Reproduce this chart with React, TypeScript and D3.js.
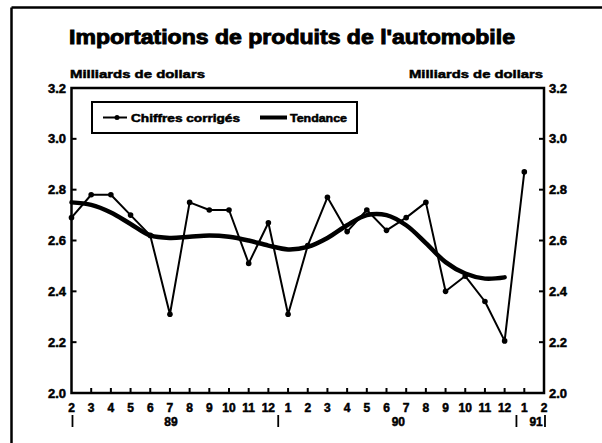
import React from "react";
import * as d3 from "d3";

const title = "Importations de produits de l'automobile";
const unitLabel = "Milliards de dollars";
const monthLabels = ["2","3","4","5","6","7","8","9","10","11","12","1","2","3","4","5","6","7","8","9","10","11","12","1","2"];
const yearLabels = ["89", "90", "91"];
const yearLabelPos = [5.05, 16.6, 23.6];
const yearSeparators = [0.05, 10.5, 22.6, 24.05];
const yTicks = [2.0, 2.2, 2.4, 2.6, 2.8, 3.0, 3.2];
// Feb 1989 .. Jan 1991
const adjusted = [2.69, 2.78, 2.78, 2.70, 2.62, 2.31, 2.75, 2.72, 2.72, 2.51, 2.67, 2.31, 2.58, 2.77, 2.635, 2.72, 2.64, 2.69, 2.75, 2.40, 2.46, 2.36, 2.205, 2.87];
// Feb 1989 .. Dec 1990
const trend = [2.75, 2.74, 2.71, 2.665, 2.62, 2.61, 2.615, 2.62, 2.615, 2.60, 2.58, 2.565, 2.575, 2.61, 2.66, 2.70, 2.70, 2.66, 2.59, 2.515, 2.47, 2.45, 2.455];
const legendLabels = ["Chiffres corrigés", "Tendance"];

const FONT = "'Liberation Sans', Arial, sans-serif";

export default function App() {
  const W = 602, H = 443;
  const left = 71.5, right = 544, top = 88, bottom = 393;
  const x = d3.scaleLinear().domain([0, 24]).range([left, right]);
  const y = d3.scaleLinear().domain([2.0, 3.2]).range([bottom, top]);

  const dataLine = d3.line<number>().x((_, i) => x(i)).y((d) => y(d))(adjusted) || "";
  const trendLine = d3
    .line<number>()
    .x((_, i) => x(i))
    .y((d) => y(d))
    .curve(d3.curveCatmullRom.alpha(0.5))(trend) || "";

  const heavy = { stroke: "#000", strokeWidth: 0.5 } as const;

  return (
    <svg width={W} height={H} style={{ position: "absolute", left: 0, top: 0, background: "#fff" }} fontFamily={FONT}>
      <rect x={0} y={0} width={W} height={H} fill="#fff" />
      {/* outer border */}
      <line x1={11.5} y1={7.5} x2={W} y2={7.5} stroke="#000" strokeWidth={2.5} />
      <line x1={11.5} y1={7.5} x2={11.5} y2={H} stroke="#000" strokeWidth={2.5} />

      <text x={69} y={44} fontSize={19.5} fontWeight="bold" textLength={446} lengthAdjust="spacingAndGlyphs" stroke="#000" strokeWidth={0.9}>{title}</text>
      <text x={70} y={78} fontSize={11.5} fontWeight="bold" textLength={135} lengthAdjust="spacingAndGlyphs" {...heavy}>{unitLabel}</text>
      <text x={409} y={78} fontSize={11.5} fontWeight="bold" textLength={134} lengthAdjust="spacingAndGlyphs" {...heavy}>{unitLabel}</text>

      {/* frame */}
      <rect x={left} y={top} width={right - left} height={bottom - top} fill="none" stroke="#000" strokeWidth={2.5} />

      {/* y ticks */}
      {yTicks.map((t) => (
        <g key={t}>
          <line x1={left} x2={left + 5} y1={y(t)} y2={y(t)} stroke="#000" strokeWidth={2} />
          <line x1={right} x2={right - 5} y1={y(t)} y2={y(t)} stroke="#000" strokeWidth={2} />
          <text x={66} y={y(t) + 4.5} fontSize={13} fontWeight="bold" textAnchor="end" {...heavy}>{t.toFixed(1)}</text>
          <text x={549} y={y(t) + 4.5} fontSize={13} fontWeight="bold" {...heavy}>{t.toFixed(1)}</text>
        </g>
      ))}

      {/* x ticks */}
      {monthLabels.map((m, i) => (
        <g key={i}>
          {i > 0 && i < 24 && (
            <line x1={x(i)} x2={x(i)} y1={bottom} y2={bottom - 5} stroke="#000" strokeWidth={2} />
          )}
          <text x={x(i)} y={411.5} fontSize={12} fontWeight="bold" textAnchor="middle" {...heavy}>{m}</text>
        </g>
      ))}
      {yearLabels.map((yl, i) => (
        <text key={yl} x={x(yearLabelPos[i])} y={426} fontSize={12} fontWeight="bold" textAnchor="middle" {...heavy}>{yl}</text>
      ))}
      {yearSeparators.map((s, i) => (
        <line key={i} x1={x(s)} x2={x(s)} y1={415} y2={427} stroke="#000" strokeWidth={1.8} />
      ))}

      {/* trend */}
      <path d={trendLine} fill="none" stroke="#000" strokeWidth={4.5} strokeLinejoin="round" strokeLinecap="round" />
      {/* adjusted */}
      <path d={dataLine} fill="none" stroke="#000" strokeWidth={2} strokeLinejoin="round" />
      {adjusted.map((v, i) => (
        <circle key={i} cx={x(i)} cy={y(v)} r={2.8} fill="#000" />
      ))}

      {/* legend */}
      <rect x={92} y={102} width={265} height={31} fill="#fff" stroke="#000" strokeWidth={2} />
      <line x1={103} x2={127} y1={117.5} y2={117.5} stroke="#000" strokeWidth={2} />
      <circle cx={117} cy={117.5} r={2.5} fill="#000" />
      <text x={131} y={121.5} fontSize={10.5} fontWeight="bold" textLength={109} lengthAdjust="spacingAndGlyphs" {...heavy}>{legendLabels[0]}</text>
      <line x1={260} x2={287} y1={117.5} y2={117.5} stroke="#000" strokeWidth={4} />
      <text x={290} y={121.5} fontSize={10.5} fontWeight="bold" textLength={57} lengthAdjust="spacingAndGlyphs" {...heavy}>{legendLabels[1]}</text>
    </svg>
  );
}
